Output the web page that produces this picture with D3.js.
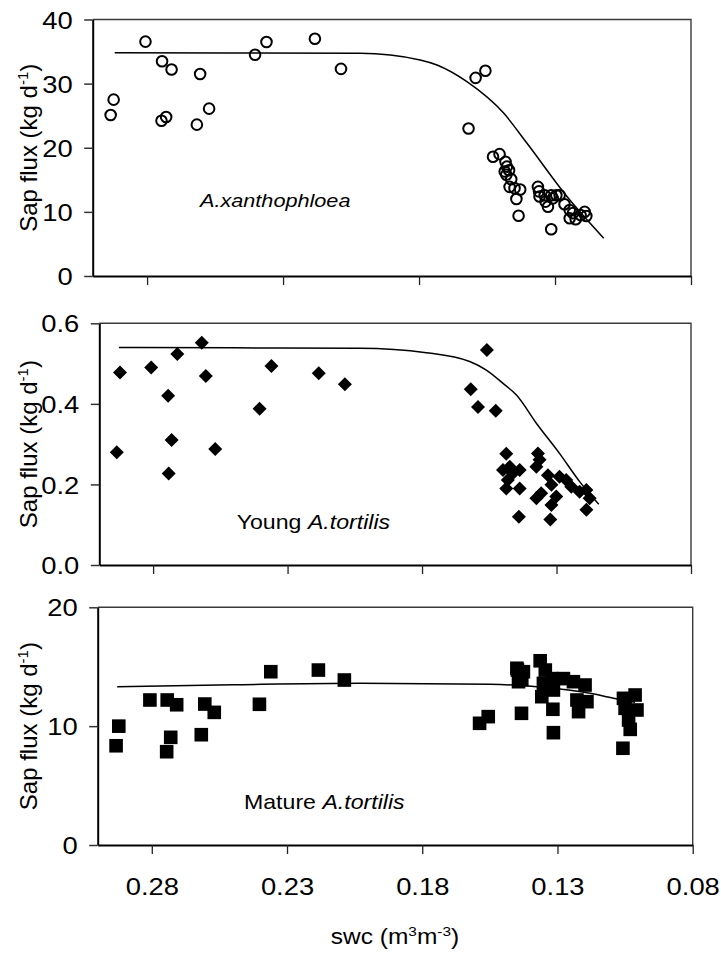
<!DOCTYPE html>
<html><head><meta charset="utf-8">
<script src="https://cdn.jsdelivr.net/npm/d3@7"></script>
<style>body{margin:0;background:#fff}svg{display:block}</style>
</head><body>
<script>
// ---------- data ----------
const xTicks = [0.28, 0.23, 0.18, 0.13, 0.08];

const xanthoSwc  = [0.2934,0.2923,0.2806,0.2745,0.2710,0.2747,0.2730,0.2617,0.2605,0.2572,0.2403,0.2361,0.2183,0.2087,0.1592,0.1556,0.1618,
  0.1528,0.1504,0.1482,0.1477,0.1485,0.1469,0.1479,0.1461,0.1467,0.1449,0.1428,0.1442,0.1434,0.1363,0.1359,0.1357,0.1338,0.1335,0.1326,0.1314,0.1308,0.1295,0.1283,0.1314,0.1265,0.1246,0.1234,0.1224,0.1206,0.1191,0.1185,0.1246];
const xanthoFlux = [25.1,27.5,36.55,33.5,32.2,24.2,24.8,23.6,31.5,26.1,34.5,36.5,37.0,32.3,30.9,32.0,23.0,
  18.6,19.0,17.8,17.05,16.3,16.5,15.8,15.1,13.9,13.7,13.5,12.0,9.4,13.9,13.2,12.4,12.6,11.6,10.8,12.6,12.1,12.6,12.6,7.3,11.2,10.3,9.8,8.85,9.5,10.0,9.36,9.0];
const xanthoFitSwc  = [0.2919,0.25,0.2017,0.1796,0.1734,0.1624,0.1489,0.1403,0.1256,0.1121];
const xanthoFitFlux = [34.8,34.78,34.74,33.7,32.9,30.3,25.4,20.7,12.4,5.9];

const youngSwc  = [0.2935,0.2923,0.2807,0.2710,0.2744,0.2731,0.2742,0.2619,0.2604,0.2569,0.2404,0.2360,0.2184,0.2087,0.1559,0.1619,0.1592,0.1526,
  0.1487,0.1499,0.1474,0.1462,0.1437,0.1481,0.1487,0.1437,0.1440,0.1369,0.1363,0.1375,0.1332,0.1357,0.1319,0.1289,0.1264,0.1301,0.1319,0.1323,0.1245,0.1214,0.1189,0.1177,0.1189,0.1375];
const youngFlux = [0.280,0.478,0.490,0.524,0.420,0.310,0.227,0.552,0.469,0.288,0.388,0.494,0.476,0.449,0.534,0.436,0.392,0.383,
  0.276,0.236,0.244,0.228,0.236,0.211,0.190,0.190,0.120,0.277,0.261,0.244,0.223,0.178,0.199,0.219,0.211,0.170,0.149,0.113,0.194,0.182,0.186,0.166,0.137,0.166];
const youngFitSwc  = [0.2927,0.25,0.2032,0.1784,0.1623,0.1561,0.1499,0.1449,0.1375,0.1289,0.1214,0.1143];
const youngFitFlux = [0.540,0.539,0.538,0.527,0.505,0.484,0.451,0.422,0.352,0.277,0.207,0.151];

const matureSwc  = [0.2932,0.2922,0.2807,0.2743,0.2708,0.2730,0.2745,0.2604,0.2569,0.2617,0.2402,0.2360,0.2184,0.2088,0.1588,0.1556,0.1433,0.1315,0.1058,
  0.1448,0.1426,0.1444,0.1364,0.1345,0.1352,0.1358,0.1321,0.1315,0.1278,0.1241,0.1198,0.1317,0.1228,0.1222,0.1191,0.1056,0.1013,0.1050,0.1006,0.1037,0.1031,0.1450,0.1432];
const matureFlux = [8.35,10.0,12.2,12.2,11.8,9.06,7.85,11.86,11.16,9.28,11.84,14.58,14.72,13.88,10.24,10.8,11.08,9.45,8.14,
  14.72,14.58,13.74,15.5,14.72,13.6,12.48,14.0,13.04,14.0,13.74,13.46,11.42,12.2,11.22,12.06,12.34,12.62,11.5,11.36,10.52,9.73,14.87,13.9];
const matureFitSwc  = [0.2928,0.25,0.2030,0.1549,0.1376,0.1179,0.1093,0.1013];
const matureFitFlux = [13.32,13.48,13.6,13.52,13.32,12.76,12.34,12.0];

const yTicksXantho = [0,10,20,30,40];
const yTicksYoung  = [0.0,0.2,0.4,0.6];
const yTicksMature = [0,10,20];

// ---------- drawing ----------
const W = 721, H = 954, SX = 1.14;
const FONT = "'Liberation Sans', Arial, Helvetica, sans-serif";
const svg = d3.select("body").append("svg").attr("width", W).attr("height", H)
  .style("font-family", FONT);

const panels = [
  {sw: xanthoSwc, fl: xanthoFlux, fs: xanthoFitSwc, ff: xanthoFitFlux, ymax: 40, yt: yTicksXantho, fmt: d3.format("d"),
   marker: "circle", top: 19.5, bottom: 276, left: 92.7, right: 691,
   lab: ["", "A.xanthophloea"], labX: 200, labY: 207, labSize: 19},
  {sw: youngSwc, fl: youngFlux, fs: youngFitSwc, ff: youngFitFlux, ymax: 0.6, yt: yTicksYoung, fmt: d3.format(".1f"),
   marker: "diamond", top: 323.3, bottom: 565, left: 99.3, right: 691,
   lab: ["Young ", "A.tortilis"], labX: 236.7, labY: 528.5, labSize: 20.3},
  {sw: matureSwc, fl: matureFlux, fs: matureFitSwc, ff: matureFitFlux, ymax: 20, yt: yTicksMature, fmt: d3.format("d"),
   marker: "square", top: 607.3, bottom: 845, left: 97.7, right: 692.7,
   lab: ["Mature ", "A.tortilis"], labX: 244, labY: 808.5, labSize: 20.3, showX: true}
];

panels.forEach(p => {
  const x = d3.scaleLinear().domain([0.30, 0.08]).range([p.left, p.right]);
  const y = d3.scaleLinear().domain([0, p.ymax]).range([p.bottom, p.top]);
  const g = svg.append("g");

  // frame top/right
  g.append("path")
    .attr("d", `M${p.left},${p.top}H${p.right}V${p.bottom}`)
    .attr("fill", "none").attr("stroke", "#3a3a3a").attr("stroke-width", 1.4);

  // x axis
  const xa = g.append("g").attr("transform", `translate(0,${p.bottom})`)
    .call(d3.axisBottom(x).tickValues(xTicks).tickSize(9).tickSizeOuter(0)
      .tickFormat(p.showX ? d3.format(".2f") : ""));
  xa.select(".domain").attr("stroke", "#000").attr("stroke-width", 2);
  xa.selectAll(".tick line").attr("stroke", "#222").attr("stroke-width", 1.3);
  xa.selectAll(".tick text")
    .attr("y", 50).attr("dy", null).attr("x", 0)
    .attr("transform", `scale(${SX},1)`)
    .style("font-size", "24px").style("font-family", FONT).attr("fill", "#000");

  // y axis
  const ya = g.append("g").attr("transform", `translate(${p.left},0)`)
    .call(d3.axisLeft(y).tickValues(p.yt).tickSize(8.5).tickSizeOuter(0).tickFormat(p.fmt));
  ya.select(".domain").attr("stroke", "#000").attr("stroke-width", 2);
  ya.selectAll(".tick line").attr("stroke", "#333").attr("stroke-width", 1.5);
  ya.selectAll(".tick text")
    .attr("x", -20 / SX).attr("dy", "0.36em")
    .attr("transform", `scale(${SX},1)`)
    .style("font-size", "24px").style("font-family", FONT).attr("fill", "#000");

  // fit curve
  const fit = p.fs.map((s, i) => [s, p.ff[i]]).sort((a, b) => b[0] - a[0]);
  g.append("path")
    .attr("d", d3.line().x(d => x(d[0])).y(d => y(d[1])).curve(d3.curveMonotoneX)(fit))
    .attr("fill", "none").attr("stroke", "#000").attr("stroke-width", 1.5);

  // points
  const pts = p.sw.map((s, i) => [s, p.fl[i]]);
  const pg = g.append("g");
  if (p.marker === "circle") {
    pg.selectAll("circle").data(pts).join("circle")
      .attr("cx", d => x(d[0])).attr("cy", d => y(d[1])).attr("r", 5.3)
      .attr("fill", "none").attr("stroke", "#000").attr("stroke-width", 2);
  } else if (p.marker === "diamond") {
    pg.selectAll("path").data(pts).join("path")
      .attr("transform", d => `translate(${x(d[0])},${y(d[1])})`)
      .attr("d", "M0,-7L7,0L0,7L-7,0Z").attr("fill", "#000");
  } else {
    pg.selectAll("rect").data(pts).join("rect")
      .attr("x", d => x(d[0]) - 6.8).attr("y", d => y(d[1]) - 6.8)
      .attr("width", 13.6).attr("height", 13.6).attr("fill", "#000");
  }

  // annotation
  const t = g.append("text")
    .attr("transform", `translate(${p.labX},${p.labY}) scale(${SX},1)`)
    .style("font-size", p.labSize + "px");
  if (p.lab[0]) t.append("tspan").text(p.lab[0]);
  t.append("tspan").style("font-style", "italic").text(p.lab[1]);

  // y title
  const cy = (p.top + p.bottom) / 2;
  const yt = g.append("text")
    .attr("transform", `translate(37,${cy}) rotate(-90)`)
    .attr("text-anchor", "middle").style("font-size", "24px");
  yt.append("tspan").text("Sap flux (kg d");
  yt.append("tspan").attr("dy", -9).style("font-size", "15px").text("-1");
  yt.append("tspan").attr("dy", 9).text(")");
});

// x title
const xt = svg.append("text")
  .attr("transform", `translate(395,944) scale(${SX},1)`)
  .attr("text-anchor", "middle").style("font-size", "21.5px");
xt.append("tspan").text("swc (m");
xt.append("tspan").attr("dy", -8).style("font-size", "13.5px").text("3");
xt.append("tspan").attr("dy", 8).text("m");
xt.append("tspan").attr("dy", -8).style("font-size", "13.5px").text("-3");
xt.append("tspan").attr("dy", 8).text(")");
</script>
</body></html>
